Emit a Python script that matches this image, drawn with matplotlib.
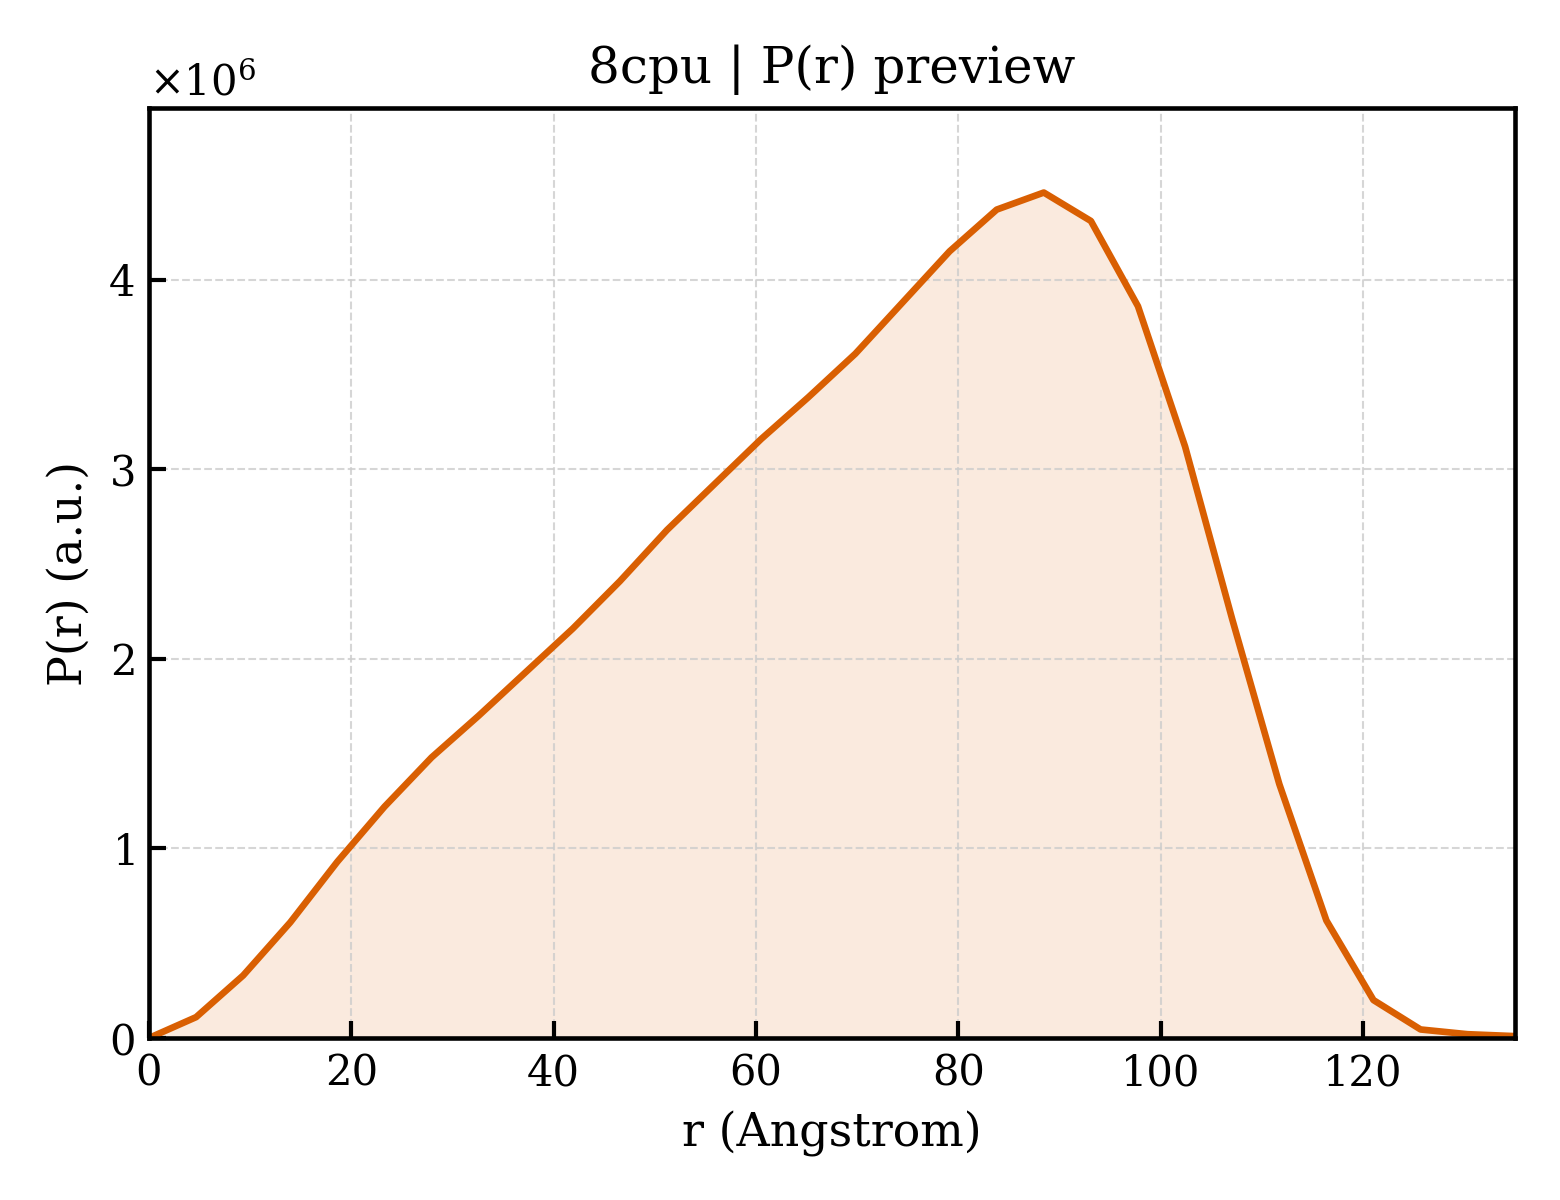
import matplotlib
matplotlib.use("Agg")
import matplotlib.pyplot as plt
import numpy as np

# P(r) preview, 30 samples from r = 0 to Dmax
R_MAX = 135.0
r = np.linspace(0.0, R_MAX, 30)
pr = np.array([
    0.00, 0.11, 0.33, 0.61, 0.93, 1.22, 1.48, 1.70, 1.93, 2.16,
    2.41, 2.68, 2.92, 3.16, 3.38, 3.61, 3.88, 4.15, 4.37, 4.46,
    4.31, 3.86, 3.12, 2.21, 1.34, 0.62, 0.20, 0.045, 0.02, 0.01,
]) * 1e6

ORANGE = "#d95f02"

plt.rcParams.update({
    "font.family": "DejaVu Serif",
    "mathtext.fontset": "dejavuserif",
    "font.size": 10,
    "axes.linewidth": 1.1,
    "xtick.direction": "in", "ytick.direction": "in",
    "xtick.major.size": 4, "ytick.major.size": 4,
    "xtick.major.width": 1.0, "ytick.major.width": 1.0,
})

fig, ax = plt.subplots(figsize=(5.2, 4.0))

ax.fill_between(r, pr, 0, color=ORANGE, alpha=0.13, lw=0)
ax.plot(r, pr, color=ORANGE, lw=1.6)

ax.set_xlim(0, R_MAX)
ax.set_ylim(0, pr.max() * 1.1)
ax.set_xlabel("r (Angstrom)", fontsize=11)
ax.set_ylabel("P(r) (a.u.)", fontsize=11)
ax.set_title("8cpu | P(r) preview", fontsize=12)
ax.ticklabel_format(axis="y", style="sci", scilimits=(0, 0), useMathText=True)
ax.yaxis.get_offset_text().set_fontsize(10)
ax.grid(True, ls="--", lw=0.5, color="#cccccc", alpha=0.8)

fig.subplots_adjust(left=0.0955, right=0.971, top=0.91, bottom=0.135)
fig.savefig("out.png", dpi=300)
